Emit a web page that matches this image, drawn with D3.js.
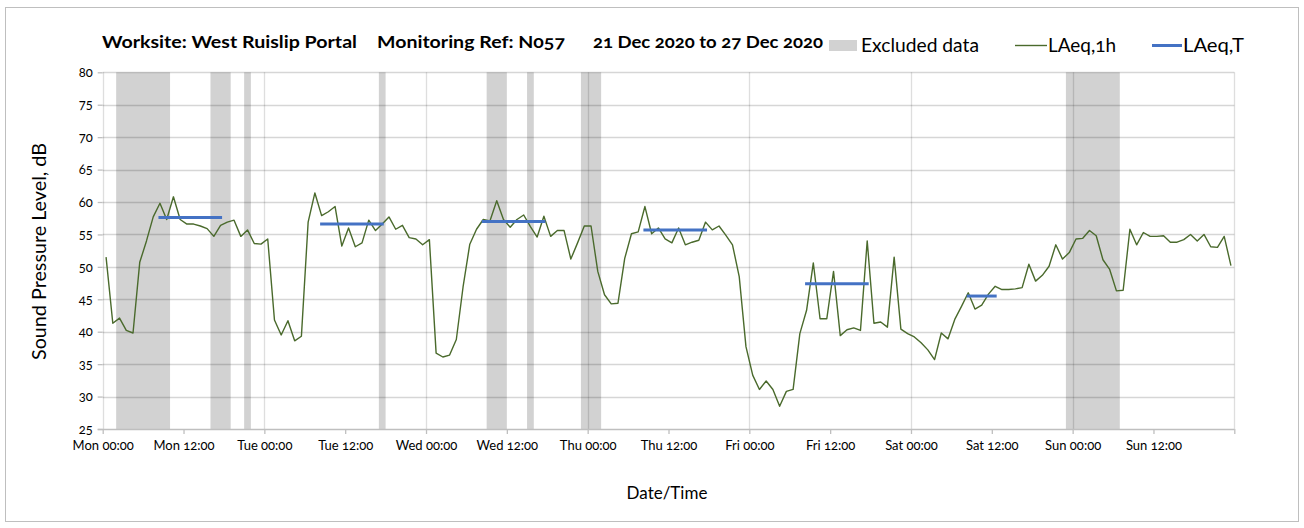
<!DOCTYPE html>
<html><head><meta charset="utf-8">
<script src="https://cdn.jsdelivr.net/npm/d3@7"></script>
<style>
html,body{margin:0;padding:0;background:#fff;}
svg text{font-family:Lato,"Open Sans",sans-serif;font-variant-numeric:oldstyle-nums;fill:#000;}
</style></head>
<body><svg id="c" width="1304" height="528"></svg>
<script>
// hourly LAeq,1h values (each point plotted at hh:30)
const laeqMon = [51.5,41.3,42.1,40.2,39.8,50.7,54.0,57.7,59.8,57.3,60.8,57.3,56.6,56.6,56.3,55.9,54.7,56.4,56.9,57.2,54.7,55.7,53.6,53.5];
const laeqTue = [54.3,41.8,39.5,41.7,38.6,39.3,56.9,61.4,57.9,58.5,59.3,53.2,56.0,53.1,53.7,57.2,55.6,56.6,57.7,55.8,56.4,54.5,54.3,53.4];
const laeqWed = [54.2,36.7,36.1,36.4,38.8,46.9,53.5,55.8,57.3,57.1,60.2,57.3,56.1,57.3,58.0,56.2,54.6,57.8,54.7,55.6,55.6,51.2,53.7,56.3];
const laeqThu = [56.3,49.3,45.7,44.3,44.4,51.3,55.1,55.4,59.3,55.1,56.0,54.3,53.7,56.0,53.4,53.8,54.1,56.9,55.7,56.3,54.9,53.4,48.5,37.7];
const laeqFri = [33.3,31.1,32.4,31.1,28.5,30.8,31.1,39.7,43.3,50.6,42.0,42.0,49.3,39.4,40.3,40.6,40.2,54.0,41.3,41.5,40.7,51.5,40.4,39.7];
const laeqSat = [39.2,38.3,37.2,35.7,39.8,38.9,41.9,43.9,46.0,43.5,44.1,45.8,47.0,46.5,46.5,46.6,46.8,50.4,47.8,48.7,50.1,53.4,51.2,52.2];
const laeqSun = [54.3,54.4,55.6,54.8,51.1,49.6,46.3,46.4,55.8,53.4,55.3,54.7,54.7,54.8,53.8,53.8,54.2,55.0,54.0,55.0,53.1,53.0,54.7,50.2];

// LAeq,T periods (hours from Mon 00:00)
const periodStart = [8.5, 32.5, 56.5, 80.5, 104.5, 128.5];
const periodEnd   = [17.5, 41.5, 65.5, 89.5, 113.5, 132.5];
const periodValue = [57.6, 56.6, 57.0, 55.7, 47.4, 45.5];

// excluded data windows (hours from Mon 00:00)
const excludedStart = [2, 16, 21, 41, 57, 63, 71, 143];
const excludedEnd   = [10, 19, 22, 42, 60, 64, 74, 151];

const dayNames = ["Mon","Tue","Wed","Thu","Fri","Sat","Sun"];
const yTicks = [25,30,35,40,45,50,55,60,65,70,75,80];
const xTickHours = d3.range(0, 169, 12);

const titleParts = ["Worksite: West Ruislip Portal","Monitoring Ref: N057","21 Dec 2020 to 27 Dec 2020"];
const legendLabels = ["Excluded data","LAeq,1h","LAeq,T"];

const series = [laeqMon,laeqTue,laeqWed,laeqThu,laeqFri,laeqSat,laeqSun]
  .flatMap((arr, d) => arr.map((v, h) => ({t: d*24 + h + 0.5, v})));

const svg = d3.select("#c");
const x = d3.scaleLinear().domain([0,168]).range([102.7,1234.3]);
const y = d3.scaleLinear().domain([25,80]).range([429,72.3]);
const green = "#4a6a2c", blue = "#4472c4", band = "#d2d2d2";

// outer border
svg.append("rect").attr("x",5.5).attr("y",7.5).attr("width",1293).attr("height",514)
  .attr("fill","#fff").attr("stroke","#bfbfbf").attr("stroke-width",1);

// excluded bands
svg.append("g").selectAll("rect").data(excludedStart).join("rect")
  .attr("x",(d)=>x(d)).attr("width",(d,i)=>x(excludedEnd[i])-x(d))
  .attr("y",y(80)).attr("height",y(25)-y(80)).attr("fill",band);

// horizontal gridlines
svg.append("g").selectAll("line").data(yTicks.filter(d=>d>25)).join("line")
  .attr("x1",x(0)).attr("x2",x(168)).attr("y1",d=>Math.round(y(d))+0.5).attr("y2",d=>Math.round(y(d))+0.5)
  .attr("stroke","rgba(0,0,0,0.16)").attr("stroke-width",1.3);
// vertical day gridlines
svg.append("g").selectAll("line").data(d3.range(0,169,24)).join("line")
  .attr("x1",d=>Math.round(x(d))+0.5).attr("x2",d=>Math.round(x(d))+0.5).attr("y1",y(80)).attr("y2",y(25))
  .attr("stroke","rgba(0,0,0,0.13)").attr("stroke-width",1.3);

// y axis
const yAxis = d3.axisLeft(y).tickValues(yTicks).tickSize(5).tickPadding(5).tickFormat(d3.format("d"));
const gy = svg.append("g").attr("transform",`translate(${x(0)},0)`).call(yAxis);
gy.select(".domain").remove();
gy.selectAll(".tick line").attr("stroke","#bfbfbf").attr("stroke-width",1.3);
gy.selectAll(".tick text").attr("font-size",13).attr("font-family",null);

// x axis
const fmt = h => dayNames[Math.floor(h/24)%7] + " " + (h%24===0 ? "00:00" : "12:00");
const xAxis = d3.axisBottom(x).tickValues(xTickHours).tickSize(5).tickPadding(7)
  .tickFormat(h => h >= 168 ? "" : fmt(h));
const gx = svg.append("g").attr("transform",`translate(0,${y(25)})`).call(xAxis);
gx.select(".domain").attr("stroke","#bfbfbf").attr("stroke-width",1.3).attr("d",`M${x(0)-5},0.5H${x(168)}`);
gx.selectAll(".tick line").attr("stroke","#bfbfbf").attr("stroke-width",1.3);
gx.selectAll(".tick text").attr("font-size",13).attr("font-family",null);

// LAeq,1h line
svg.append("path").datum(series)
  .attr("d", d3.line().x(d=>x(d.t)).y(d=>y(d.v)))
  .attr("fill","none").attr("stroke",green).attr("stroke-width",1.4).attr("stroke-linejoin","round");

// LAeq,T periods
svg.append("g").selectAll("line").data(periodStart).join("line")
  .attr("x1",d=>x(d)).attr("x2",(d,i)=>x(periodEnd[i]))
  .attr("y1",(d,i)=>y(periodValue[i])).attr("y2",(d,i)=>y(periodValue[i]))
  .attr("stroke",blue).attr("stroke-width",3).attr("stroke-linecap","square");

// title
const titleX = [102, 377, 593], titleW = [255, 188, 230];
svg.append("g").selectAll("text").data(titleParts).join("text")
  .attr("x",(d,i)=>titleX[i]).attr("y",48).attr("font-size",17.5).attr("font-weight","bold")
  .attr("textLength",(d,i)=>titleW[i]).attr("lengthAdjust","spacingAndGlyphs").text(d=>d);

// legend
svg.append("rect").attr("x",829).attr("y",40).attr("width",28).attr("height",11).attr("fill",band);
svg.append("line").attr("x1",1015).attr("x2",1047).attr("y1",45.5).attr("y2",45.5).attr("stroke",green).attr("stroke-width",1.4);
svg.append("line").attr("x1",1152).attr("x2",1182).attr("y1",45.5).attr("y2",45.5).attr("stroke",blue).attr("stroke-width",3);
const legX = [861, 1048, 1183], legW = [118, 68, 61];
svg.append("g").selectAll("text").data(legendLabels).join("text")
  .attr("x",(d,i)=>legX[i]).attr("y",52).attr("font-size",18.5)
  .attr("textLength",(d,i)=>legW[i]).attr("lengthAdjust","spacingAndGlyphs").text(d=>d);

// axis titles
svg.append("text").attr("x",667).attr("y",499).attr("text-anchor","middle").attr("font-size",17).text("Date/Time");
svg.append("text").attr("transform","translate(46,251.5) rotate(-90)").attr("text-anchor","middle").attr("font-size",19)
  .attr("textLength",217).attr("lengthAdjust","spacingAndGlyphs").text("Sound Pressure Level, dB");
</script></body></html>
